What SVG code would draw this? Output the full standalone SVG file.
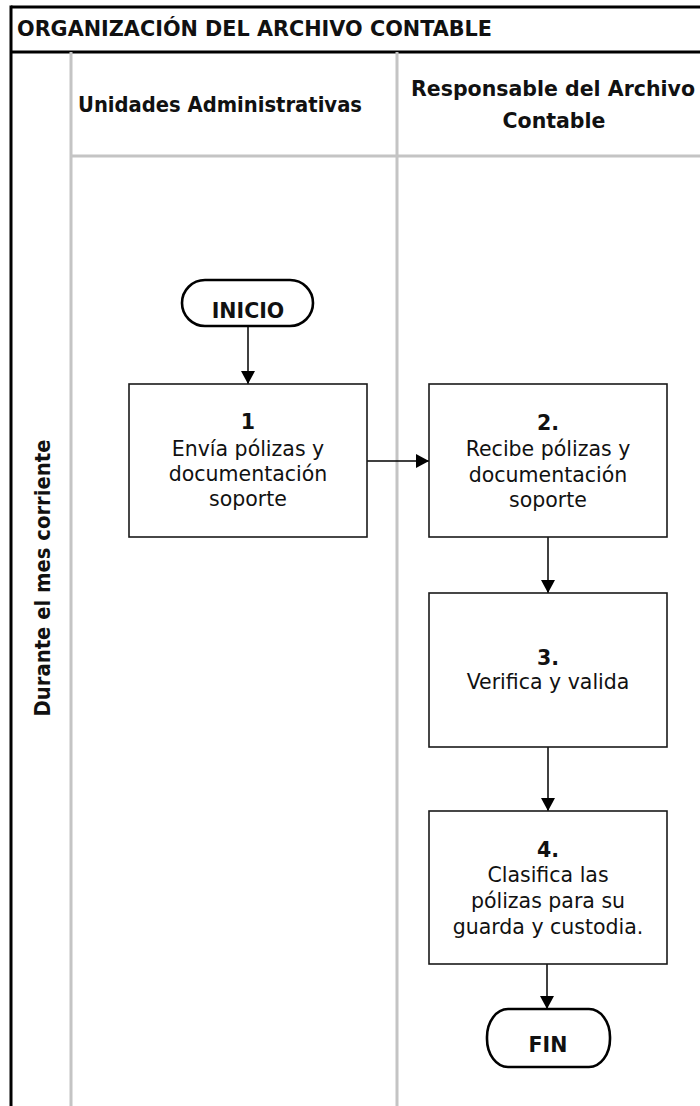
<svg xmlns="http://www.w3.org/2000/svg" width="700" height="1106" viewBox="0 0 700 1106">
<style>
.frame{stroke:#000;stroke-width:3;fill:none}
.lane{stroke:#c4c4c4;stroke-width:3;fill:none}
.box{fill:#fff;stroke:#1a1a1a;stroke-width:1.6}
.term{fill:#fff;stroke:#000;stroke-width:2.6}
.conn{stroke:#000;stroke-width:1.5;fill:none;marker-end:url(#ah)}
text{font-family:"DejaVu Sans","Liberation Sans",sans-serif;fill:#111}
.b{font-weight:bold}
.t{font-size:20.5px;text-anchor:middle}
.hd{font-size:20.5px;font-weight:bold}
</style>
<defs>
<marker id="ah" markerUnits="userSpaceOnUse" markerWidth="14" markerHeight="14" refX="13" refY="7" orient="auto">
<path d="M0,0 L13,7 L0,14 Z" fill="#000"/>
</marker>
</defs>
<rect width="700" height="1106" fill="#fff"/>
<g id="frame">
<line class="frame" x1="11" y1="7" x2="700" y2="7"/>
<line class="frame" x1="11" y1="5.5" x2="11" y2="1106" stroke-width="2.6"/>
<line class="frame" x1="11" y1="52" x2="700" y2="52" stroke-width="2"/>
<line class="lane" x1="71" y1="52" x2="71" y2="1106"/>
<line class="lane" x1="397" y1="52" x2="397" y2="1106"/>
<line class="lane" x1="71" y1="156" x2="700" y2="156"/>
</g>
<g id="title">
<text class="hd" x="17" y="36" textLength="475" lengthAdjust="spacingAndGlyphs">ORGANIZACIÓN DEL ARCHIVO CONTABLE</text>
</g>
<g id="lane-headers">
<text class="hd" x="78" y="112" textLength="284" lengthAdjust="spacingAndGlyphs">Unidades Administrativas</text>
<text class="hd" x="553" y="96" text-anchor="middle" font-size="19">Responsable del Archivo</text>
<text class="hd" x="554" y="128" text-anchor="middle">Contable</text>
</g>
<g id="phase">
<text class="hd" transform="translate(50,578) rotate(-90)" x="0" y="0" text-anchor="middle" textLength="277" lengthAdjust="spacingAndGlyphs">Durante el mes corriente</text>
</g>
<g id="connectors">
<line class="conn" x1="248" y1="326" x2="248" y2="384"/>
<line class="conn" x1="367" y1="461" x2="429" y2="461"/>
<line class="conn" x1="548" y1="537" x2="548" y2="593"/>
<line class="conn" x1="548" y1="747" x2="548" y2="811"/>
<line class="conn" x1="547" y1="964" x2="547" y2="1009"/>
</g>
<g id="inicio">
<rect class="term" x="182" y="280" width="131" height="46" rx="23" ry="23"/>
<text class="t b" x="248" y="318" font-size="20">INICIO</text>
</g>
<g id="step1">
<rect class="box" x="129" y="384" width="238" height="153"/>
<text class="t b" x="248" y="429">1</text>
<text class="t" x="248" y="456">Envía pólizas y</text>
<text class="t" x="248" y="481">documentación</text>
<text class="t" x="248" y="506">soporte</text>
</g>
<g id="step2">
<rect class="box" x="429" y="384" width="238" height="153"/>
<text class="t b" x="548" y="430">2.</text>
<text class="t" x="548" y="456">Recibe pólizas y</text>
<text class="t" x="548" y="482">documentación</text>
<text class="t" x="548" y="507">soporte</text>
</g>
<g id="step3">
<rect class="box" x="429" y="593" width="238" height="154"/>
<text class="t b" x="548" y="665">3.</text>
<text class="t" x="548" y="689">Verifica y valida</text>
</g>
<g id="step4">
<rect class="box" x="429" y="811" width="238" height="153"/>
<text class="t b" x="548" y="857">4.</text>
<text class="t" x="548" y="882">Clasifica las</text>
<text class="t" x="548" y="908">pólizas para su</text>
<text class="t" x="548" y="934">guarda y custodia.</text>
</g>
<g id="fin">
<rect class="term" x="487" y="1009" width="123" height="58" rx="21" ry="28"/>
<text class="t b" x="548" y="1052" font-size="20">FIN</text>
</g>
</svg>
